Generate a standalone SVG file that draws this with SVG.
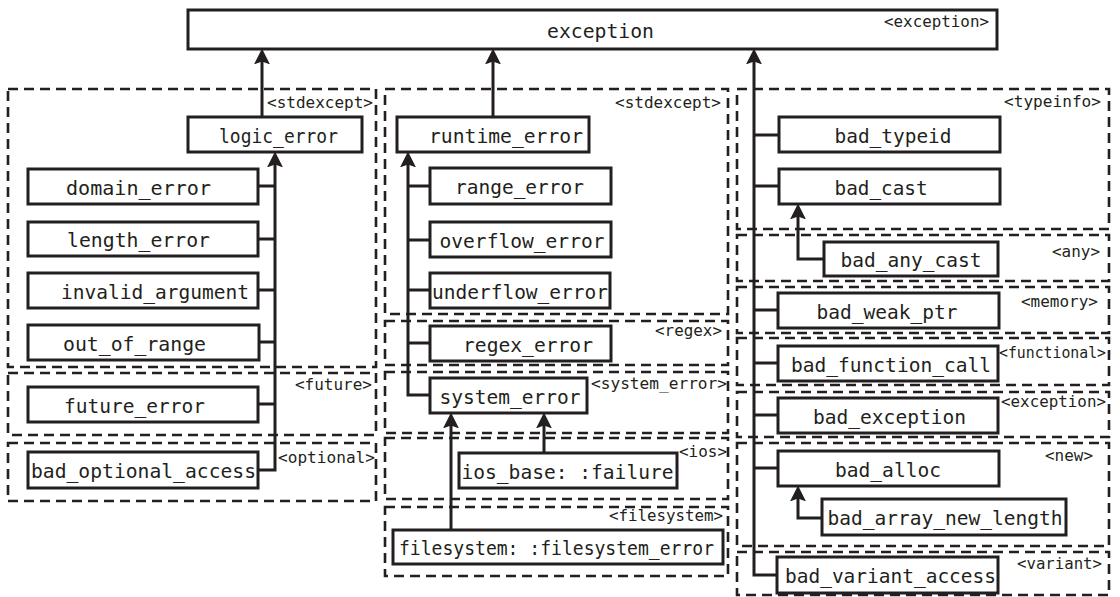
<svg xmlns="http://www.w3.org/2000/svg" width="1120" height="597" viewBox="0 0 1120 597">
<style>
.pkg{fill:none;stroke:#231f20;stroke-width:2.6;stroke-dasharray:10 6}
.box{fill:#fff;stroke:#231f20;stroke-width:3}
.t{font-family:"DejaVu Sans Mono","Liberation Mono",monospace;font-size:20px;fill:#231f20;text-anchor:middle}
.lbl{font-family:"DejaVu Sans Mono","Liberation Mono",monospace;font-size:16.5px;fill:#231f20;text-anchor:end}
.c{fill:none;stroke:#231f20;stroke-width:3}
.a{marker-end:url(#arr)}
</style>
<defs>
<marker id="arr" markerUnits="userSpaceOnUse" markerWidth="16" markerHeight="16" viewBox="0 0 14 14" refX="10" refY="7" orient="auto">
<path d="M0,0 L14,7 L0,14 L2.5,7 Z" fill="#231f20"/>
</marker>
</defs>
<rect width="1120" height="597" fill="#fff"/>
<g id="packages">
<rect class="pkg" x="8" y="89" width="368" height="278"/>
<rect class="pkg" x="8" y="373" width="368" height="62"/>
<rect class="pkg" x="8" y="443" width="368" height="58"/>
<rect class="pkg" x="385" y="89" width="343" height="225"/>
<rect class="pkg" x="385" y="321" width="343" height="44"/>
<rect class="pkg" x="385" y="372" width="343" height="61"/>
<rect class="pkg" x="385" y="438" width="343" height="61"/>
<rect class="pkg" x="385" y="507" width="343" height="69"/>
<rect class="pkg" x="737" y="89" width="372" height="140"/>
<rect class="pkg" x="737" y="235" width="372" height="46"/>
<rect class="pkg" x="737" y="287" width="372" height="46"/>
<rect class="pkg" x="737" y="338" width="372" height="47"/>
<rect class="pkg" x="737" y="392" width="372" height="45"/>
<rect class="pkg" x="737" y="443" width="372" height="103"/>
<rect class="pkg" x="737" y="552" width="372" height="43"/>
<text class="lbl" x="373" y="108" textLength="106" lengthAdjust="spacingAndGlyphs">&lt;stdexcept&gt;</text>
<text class="lbl" x="372" y="390" textLength="77" lengthAdjust="spacingAndGlyphs">&lt;future&gt;</text>
<text class="lbl" x="375" y="463" textLength="97" lengthAdjust="spacingAndGlyphs">&lt;optional&gt;</text>
<text class="lbl" x="721" y="108" textLength="106" lengthAdjust="spacingAndGlyphs">&lt;stdexcept&gt;</text>
<text class="lbl" x="722" y="336" textLength="67" lengthAdjust="spacingAndGlyphs">&lt;regex&gt;</text>
<text class="lbl" x="727" y="389" textLength="136" lengthAdjust="spacingAndGlyphs">&lt;system_error&gt;</text>
<text class="lbl" x="727" y="457" textLength="48" lengthAdjust="spacingAndGlyphs">&lt;ios&gt;</text>
<text class="lbl" x="723" y="521" textLength="114" lengthAdjust="spacingAndGlyphs">&lt;filesystem&gt;</text>
<text class="lbl" x="1101" y="107" textLength="97" lengthAdjust="spacingAndGlyphs">&lt;typeinfo&gt;</text>
<text class="lbl" x="1100" y="257" textLength="48" lengthAdjust="spacingAndGlyphs">&lt;any&gt;</text>
<text class="lbl" x="1098" y="307" textLength="77" lengthAdjust="spacingAndGlyphs">&lt;memory&gt;</text>
<text class="lbl" x="1106" y="358" textLength="107" lengthAdjust="spacingAndGlyphs">&lt;functional&gt;</text>
<text class="lbl" x="1106" y="407" textLength="105" lengthAdjust="spacingAndGlyphs">&lt;exception&gt;</text>
<text class="lbl" x="1093" y="461" textLength="48" lengthAdjust="spacingAndGlyphs">&lt;new&gt;</text>
<text class="lbl" x="1102" y="569" textLength="85" lengthAdjust="spacingAndGlyphs">&lt;variant&gt;</text>
</g>
<g id="connectors">
<path class="c a" d="M262,117 V53"/>
<path class="c a" d="M493,117 V53"/>
<path class="c a" d="M777,575 H754 V53"/>
<path class="c" d="M754,135 H779 M754,186 H779 M754,310 H778 M754,363 H778 M754,415 H778 M754,468 H778"/>
<path class="c a" d="M824,259 H798 V208"/>
<path class="c a" d="M822,518 H798 V490"/>
<path class="c a" d="M258,470 H275 V156"/>
<path class="c" d="M258,186 H275 M258,239 H275 M258,290 H275 M258,342 H275 M258,404 H275"/>
<path class="c a" d="M430,395 H408 V156"/>
<path class="c" d="M408,186 H430 M408,240 H430 M408,290 H430 M408,343 H430"/>
<path class="c a" d="M544,453 V417"/>
<path class="c a" d="M451,530 V417"/>
</g>
<g id="exception"><rect class="box" x="188" y="10" width="809" height="39"/><text class="t" x="600.5" y="38" textLength="107" lengthAdjust="spacingAndGlyphs">exception</text><text class="lbl" x="989" y="27" textLength="105" lengthAdjust="spacingAndGlyphs">&lt;exception&gt;</text></g>
<g id="logic_error"><rect class="box" x="188" y="117" width="174" height="35"/><text class="t" x="278.5" y="143" textLength="119" lengthAdjust="spacingAndGlyphs">logic_error</text></g>
<g id="domain_error"><rect class="box" x="28" y="169" width="230" height="35"/><text class="t" x="138.5" y="195" textLength="145" lengthAdjust="spacingAndGlyphs">domain_error</text></g>
<g id="length_error"><rect class="box" x="28" y="222" width="230" height="34"/><text class="t" x="138.5" y="247" textLength="143" lengthAdjust="spacingAndGlyphs">length_error</text></g>
<g id="invalid_argument"><rect class="box" x="28" y="273" width="230" height="35"/><text class="t" x="155" y="299" textLength="188" lengthAdjust="spacingAndGlyphs">invalid_argument</text></g>
<g id="out_of_range"><rect class="box" x="28" y="325" width="231" height="35"/><text class="t" x="134.5" y="351" textLength="143" lengthAdjust="spacingAndGlyphs">out_of_range</text></g>
<g id="future_error"><rect class="box" x="28" y="387" width="230" height="35"/><text class="t" x="134.5" y="413" textLength="141" lengthAdjust="spacingAndGlyphs">future_error</text></g>
<g id="bad_optional_access"><rect class="box" x="28" y="452" width="230" height="36"/><text class="t" x="143.5" y="478" textLength="225" lengthAdjust="spacingAndGlyphs">bad_optional_access</text></g>
<g id="runtime_error"><rect class="box" x="397" y="117" width="192" height="35"/><text class="t" x="506" y="143" textLength="154" lengthAdjust="spacingAndGlyphs">runtime_error</text></g>
<g id="range_error"><rect class="box" x="430" y="168" width="181" height="36"/><text class="t" x="519.5" y="194" textLength="129" lengthAdjust="spacingAndGlyphs">range_error</text></g>
<g id="overflow_error"><rect class="box" x="430" y="222" width="181" height="35"/><text class="t" x="522" y="248" textLength="165" lengthAdjust="spacingAndGlyphs">overflow_error</text></g>
<g id="underflow_error"><rect class="box" x="430" y="273" width="180" height="35"/><text class="t" x="520" y="299" textLength="176" lengthAdjust="spacingAndGlyphs">underflow_error</text></g>
<g id="regex_error"><rect class="box" x="430" y="326" width="181" height="35"/><text class="t" x="528" y="352" textLength="130" lengthAdjust="spacingAndGlyphs">regex_error</text></g>
<g id="system_error"><rect class="box" x="430" y="378" width="157" height="35"/><text class="t" x="510" y="404" textLength="141" lengthAdjust="spacingAndGlyphs">system_error</text></g>
<g id="ios_base_failure"><rect class="box" x="459" y="453" width="218" height="35"/><text class="t" x="567.5" y="479" textLength="212" lengthAdjust="spacingAndGlyphs">ios_base: :failure</text></g>
<g id="filesystem_error"><rect class="box" x="393" y="530" width="330" height="34"/><text class="t" x="556.5" y="555" textLength="315" lengthAdjust="spacingAndGlyphs">filesystem: :filesystem_error</text></g>
<g id="bad_typeid"><rect class="box" x="779" y="117" width="221" height="35"/><text class="t" x="893" y="143" textLength="117" lengthAdjust="spacingAndGlyphs">bad_typeid</text></g>
<g id="bad_cast"><rect class="box" x="779" y="169" width="221" height="35"/><text class="t" x="881" y="195" textLength="93" lengthAdjust="spacingAndGlyphs">bad_cast</text></g>
<g id="bad_any_cast"><rect class="box" x="824" y="242" width="174" height="34"/><text class="t" x="911" y="267" textLength="141" lengthAdjust="spacingAndGlyphs">bad_any_cast</text></g>
<g id="bad_weak_ptr"><rect class="box" x="778" y="293" width="221" height="35"/><text class="t" x="887" y="319" textLength="141" lengthAdjust="spacingAndGlyphs">bad_weak_ptr</text></g>
<g id="bad_function_call"><rect class="box" x="778" y="346" width="220" height="35"/><text class="t" x="891" y="372" textLength="200" lengthAdjust="spacingAndGlyphs">bad_function_call</text></g>
<g id="bad_exception"><rect class="box" x="778" y="398" width="220" height="35"/><text class="t" x="889.5" y="424" textLength="153" lengthAdjust="spacingAndGlyphs">bad_exception</text></g>
<g id="bad_alloc"><rect class="box" x="778" y="451" width="221" height="35"/><text class="t" x="888" y="477" textLength="106" lengthAdjust="spacingAndGlyphs">bad_alloc</text></g>
<g id="bad_array_new_length"><rect class="box" x="822" y="499" width="244" height="36"/><text class="t" x="945" y="525" textLength="235" lengthAdjust="spacingAndGlyphs">bad_array_new_length</text></g>
<g id="bad_variant_access"><rect class="box" x="777" y="557" width="221" height="36"/><text class="t" x="890.5" y="583" textLength="211" lengthAdjust="spacingAndGlyphs">bad_variant_access</text></g>
</svg>
